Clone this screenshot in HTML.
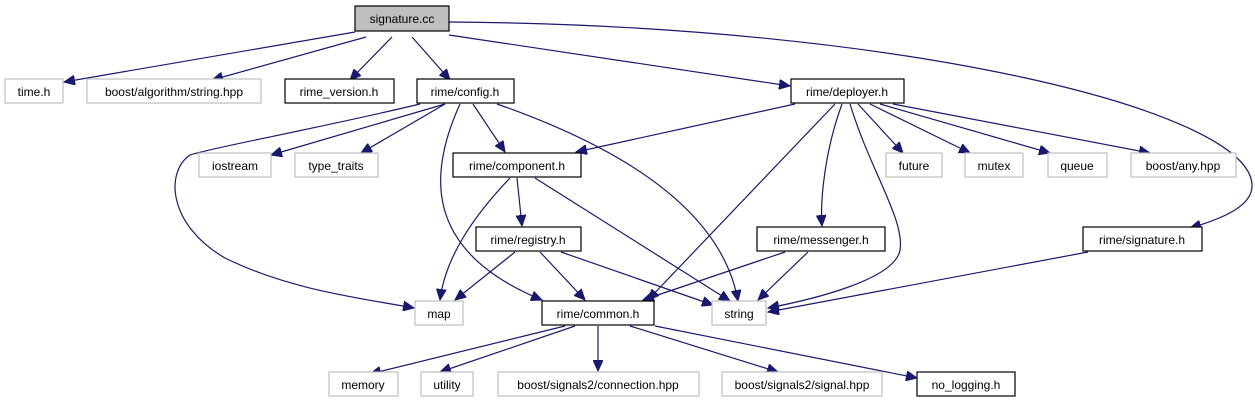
<!DOCTYPE html>
<html><head><meta charset="utf-8"><style>
html,body{margin:0;padding:0;background:#fff;}
svg{display:block;}
text{font-family:"Liberation Sans",Arial,sans-serif;font-size:12px;fill:#000;text-anchor:middle;}
.g{fill:#fff;stroke:#bfbfbf;stroke-width:1.2;}
.b{fill:#fff;stroke:#000;stroke-width:1.2;}
.e{fill:none;stroke:#191970;stroke-width:1.2;}
</style></head><body>
<svg width="1255" height="403" viewBox="0 0 1255 403" xmlns="http://www.w3.org/2000/svg">
<defs><marker id="a" markerUnits="userSpaceOnUse" markerWidth="12" markerHeight="10" refX="11" refY="5" orient="auto"><path d="M0,0 L11,5 L0,10 z" fill="#191970" stroke="#191970"/></marker></defs>
<g marker-end="url(#a)" class="e">
<path d="M355,32 L64,82"/>
<path d="M366,37 L212,80"/>
<path d="M392,37 L350,80"/>
<path d="M412,37 L450,80"/>
<path d="M449,35 L790,86"/>
<path d="M449,22 C900,25 1250,110 1252,185 C1253,205 1225,218 1190,228"/>
<path d="M420,104 C320,128 210,148 190,155 C165,172 168,225 225,258 C290,290 360,298 414,308"/>
<path d="M445,104 L271,155"/>
<path d="M445,104 L361,153"/>
<path d="M473,104 L505,152"/>
<path d="M460,104 C430,170 420,250 542,300"/>
<path d="M497,104 C600,140 720,200 738,301"/>
<path d="M795,104 L576,152"/>
<path d="M835,104 L648,300"/>
<path d="M842,104 C825,150 820,200 822,226"/>
<path d="M850,104 C870,170 905,220 900,250 C895,280 810,300 768,308"/>
<path d="M858,104 L903,153"/>
<path d="M870,104 L970,153"/>
<path d="M880,104 L1050,153"/>
<path d="M893,104 L1150,153"/>
<path d="M510,178 C470,220 445,260 440,300"/>
<path d="M517,178 L522,226"/>
<path d="M535,178 L730,301"/>
<path d="M515,252 L455,300"/>
<path d="M540,252 L585,300"/>
<path d="M561,252 L713,305"/>
<path d="M785,252 L643,300"/>
<path d="M808,252 L758,300"/>
<path d="M1088,252 L768,312"/>
<path d="M565,326 L370,374"/>
<path d="M575,326 L440,372"/>
<path d="M598,326 L598,371"/>
<path d="M630,326 L778,372"/>
<path d="M655,326 L917,378"/>
</g>
<rect x="355" y="6" width="94" height="25" fill="#bfbfbf" stroke="#000" stroke-width="1.2"/><text x="402" y="23">signature.cc</text>
<rect class="g" x="5" y="79" width="58" height="24"/><text x="34" y="96">time.h</text>
<rect class="g" x="87" y="79" width="174" height="24"/><text x="174" y="96">boost/algorithm/string.hpp</text>
<rect class="b" x="285" y="79" width="109" height="24"/><text x="339" y="96">rime_version.h</text>
<rect class="b" x="417" y="79" width="97" height="24"/><text x="465" y="96">rime/config.h</text>
<rect class="b" x="791" y="79" width="113" height="24"/><text x="847" y="96">rime/deployer.h</text>
<rect class="g" x="199" y="153" width="72" height="24"/><text x="235" y="170">iostream</text>
<rect class="g" x="295" y="153" width="83" height="24"/><text x="336" y="170">type_traits</text>
<rect class="b" x="453" y="153" width="128" height="24"/><text x="517" y="170">rime/component.h</text>
<rect class="g" x="886" y="153" width="56" height="24"/><text x="914" y="170">future</text>
<rect class="g" x="965" y="153" width="58" height="24"/><text x="994" y="170">mutex</text>
<rect class="g" x="1048" y="153" width="59" height="24"/><text x="1077" y="170">queue</text>
<rect class="g" x="1131" y="153" width="105" height="24"/><text x="1183" y="170">boost/any.hpp</text>
<rect class="b" x="476" y="227" width="105" height="24"/><text x="528" y="244">rime/registry.h</text>
<rect class="b" x="757" y="227" width="128" height="24"/><text x="821" y="244">rime/messenger.h</text>
<rect class="b" x="1083" y="227" width="119" height="24"/><text x="1142" y="244">rime/signature.h</text>
<rect class="g" x="415" y="301" width="48" height="24"/><text x="439" y="318">map</text>
<rect class="b" x="542" y="301" width="112" height="24"/><text x="598" y="318">rime/common.h</text>
<rect class="g" x="712" y="301" width="54" height="24"/><text x="739" y="318">string</text>
<rect class="g" x="329" y="372" width="69" height="24"/><text x="363" y="389">memory</text>
<rect class="g" x="421" y="372" width="52" height="24"/><text x="447" y="389">utility</text>
<rect class="g" x="498" y="372" width="201" height="24"/><text x="598" y="389">boost/signals2/connection.hpp</text>
<rect class="g" x="722" y="372" width="160" height="24"/><text x="802" y="389">boost/signals2/signal.hpp</text>
<rect class="b" x="917" y="372" width="98" height="24"/><text x="966" y="389">no_logging.h</text>
</svg>
</body></html>
